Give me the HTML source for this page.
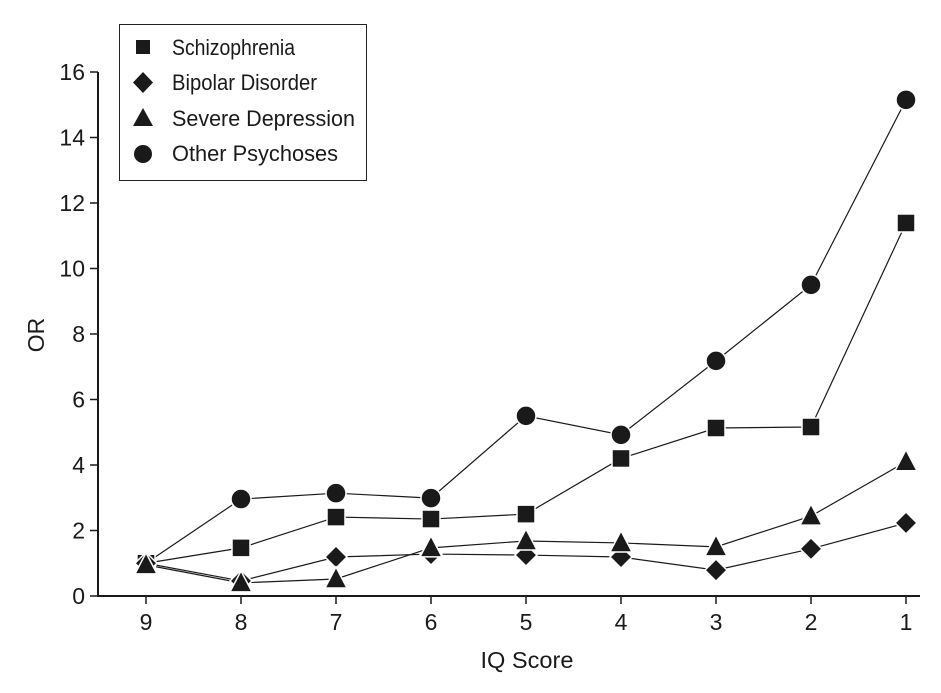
<!DOCTYPE html>
<html><head><meta charset="utf-8"><style>
body{margin:0;background:#fff;}
svg{display:block;font-family:"Liberation Sans",sans-serif;}
</style></head><body>
<svg id="chart" width="941" height="693">
<g id="axes"></g><g id="series"></g>
<g>
<rect x="119.5" y="24.5" width="247" height="156" fill="#fff" stroke="#222" stroke-width="1"/>
<rect x="136" y="40" width="14" height="14" fill="#1a1a1a"/>
<text x="172" y="55" font-size="22" textLength="123" lengthAdjust="spacingAndGlyphs" fill="#1a1a1a">Schizophrenia</text>
<path d="M143,72 L153,82.5 L143,93 L133,82.5Z" fill="#1a1a1a"/>
<text x="172" y="90" font-size="22" textLength="145" lengthAdjust="spacingAndGlyphs" fill="#1a1a1a">Bipolar Disorder</text>
<path d="M143,108 L153,126 L133,126Z" fill="#1a1a1a"/>
<text x="172" y="126" font-size="22" textLength="183" lengthAdjust="spacingAndGlyphs" fill="#1a1a1a">Severe Depression</text>
<circle cx="143" cy="154" r="9" fill="#1a1a1a"/>
<text x="172" y="161" font-size="22" textLength="166" lengthAdjust="spacingAndGlyphs" fill="#1a1a1a">Other Psychoses</text>
</g>
<text x="527" y="668" font-size="23" textLength="93" lengthAdjust="spacingAndGlyphs" text-anchor="middle" fill="#1a1a1a">IQ Score</text>
<text transform="translate(44,335) rotate(-90)" font-size="23" text-anchor="middle" fill="#1a1a1a">OR</text>
</svg>
<script>
const categories=["9","8","7","6","5","4","3","2","1"];
const yTicks=[0,2,4,6,8,10,12,14,16];
const schizophrenia=[1.0,1.47,2.41,2.35,2.5,4.2,5.13,5.16,11.39];
const bipolar=[1.0,0.46,1.19,1.28,1.25,1.19,0.79,1.44,2.23];
const depression=[0.95,0.4,0.52,1.47,1.68,1.62,1.5,2.44,4.1];
const other=[1.0,2.96,3.14,2.99,5.5,4.92,7.18,9.5,15.15];
const NS="http://www.w3.org/2000/svg";
function x(i){return 146+i*95;}
function y(v){return 596-v*32.75;}
const axes=document.getElementById('axes'),series=document.getElementById('series');
function mk(tag,attrs,parent){const e=document.createElementNS(NS,tag);for(const k in attrs)e.setAttribute(k,attrs[k]);parent.appendChild(e);return e;}
let e=mk('line',{x1:98,y1:y(16),x2:98,y2:597,stroke:'#1a1a1a','stroke-width':2},axes);


e=mk('line',{x1:97,y1:596,x2:920,y2:596,stroke:'#1a1a1a','stroke-width':2},axes);


yTicks.forEach(t=>{
 const l=mk('line',{x1:90,y1:y(t),x2:98,y2:y(t),stroke:'#1a1a1a','stroke-width':1.5},axes);
 
 
 const tx=mk('text',{x:85,y:y(t)+8,'font-size':23,'text-anchor':'end',fill:'#1a1a1a'},axes);
 tx.textContent=t;
 
 
});
categories.forEach((c,i)=>{
 const l=mk('line',{x1:x(i),y1:596,x2:x(i),y2:604,stroke:'#1a1a1a','stroke-width':1.5},axes);
 
 
 const tx=mk('text',{x:x(i),y:630,'font-size':23,'text-anchor':'middle',fill:'#1a1a1a'},axes);
 tx.textContent=c;
 
 
});
function marker(shape,cx,cy,name){
 let m;
 if(shape==='square')m=mk('rect',{x:cx-9,y:cy-9,width:18,height:18},series);
 else if(shape==='diamond')m=mk('path',{d:`M${cx},${cy-11}L${cx+11},${cy}L${cx},${cy+11}L${cx-11},${cy}Z`},series);
 else if(shape==='triangle')m=mk('path',{d:`M${cx},${cy-12}L${cx+11},${cy+9}L${cx-11},${cy+9}Z`},series);
 else m=mk('circle',{cx:cx,cy:cy,r:10},series);
 m.setAttribute('fill','#1a1a1a');m.setAttribute('stroke','#fff');m.setAttribute('stroke-width','1.5');
 
 
}
const all=[[other,'circle','other'],[schizophrenia,'square','schizophrenia'],[bipolar,'diamond','bipolar'],[depression,'triangle','depression']];
all.forEach(([vals,shape,name])=>{
 const p=mk('polyline',{points:vals.map((v,i)=>x(i)+','+y(v)).join(' '),fill:'none',stroke:'#1a1a1a','stroke-width':1.2},series);
 
 
});
all.forEach(([vals,shape,name])=>{vals.forEach((v,i)=>marker(shape,x(i),y(v),name+'-point'));});
</script>
</body></html>
